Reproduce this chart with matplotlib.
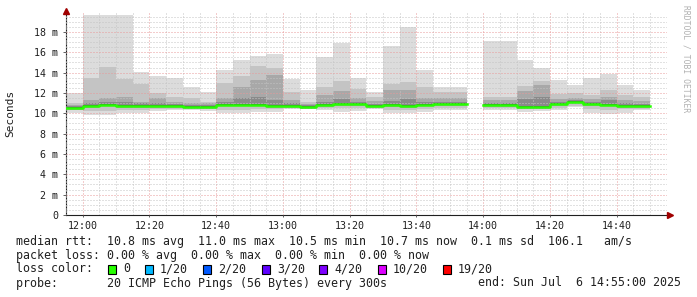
import numpy as np
import matplotlib
matplotlib.use("Agg")
import matplotlib.pyplot as plt
from matplotlib.ticker import MultipleLocator, FuncFormatter
from matplotlib.patches import Rectangle

# 5-minute bins (start time of each bin), values in ms
bins = ["11:55", "12:00", "12:05", "12:10", "12:15", "12:20", "12:25", "12:30", "12:35",
        "12:40", "12:45", "12:50", "12:55", "13:00", "13:05", "13:10", "13:15", "13:20",
        "13:25", "13:30", "13:35", "13:40", "13:45", "13:50", "13:55", "14:00", "14:05",
        "14:10", "14:15", "14:20", "14:25", "14:30", "14:35", "14:40", "14:45"]
nan = np.nan
rtt_max = [12.0, 19.7, 19.7, 19.7, 14.05, 13.7, 13.5, 12.6, 12.1, 14.3, 15.25, 15.6, 15.85,
           13.4, 12.3, 15.55, 16.95, 13.5, 12.1, 16.6, 18.5, 14.25, 12.55, 12.55, nan,
           17.1, 17.1, 15.25, 14.5, 13.3, 12.75, 13.5, 13.85, 12.75, 12.3]
rtt_p2 = [11.0, 13.5, 14.55, 13.4, 12.9, 12.0, 11.6, 11.55, 11.1, 13.0, 13.7, 14.65, 14.5,
          12.1, 11.1, 12.55, 13.2, 12.4, 11.6, 12.9, 13.1, 12.55, 12.1, 12.1, nan,
          11.6, 11.6, 12.7, 13.2, 11.9, 12.0, 11.8, 12.3, 11.8, 11.6]
rtt_p3 = [10.8, 11.3, 11.5, 11.6, 11.15, 11.5, 11.15, 11.0, 11.0, 11.5, 12.55, 13.3, 13.8,
          11.3, 10.95, 11.8, 12.2, 11.5, 11.2, 12.3, 12.3, 11.5, 11.5, 11.5, nan,
          11.3, 11.3, 12.15, 12.75, 11.4, 11.5, 11.4, 11.6, 11.3, 11.2]
rtt_p4 = [10.7, 11.0, 11.1, 11.1, 11.0, 11.0, 10.95, 10.85, 10.85, 11.1, 11.5, 11.6, 11.35,
          11.0, 10.8, 11.1, 11.4, 11.1, 10.95, 11.2, 11.4, 11.1, 11.1, 11.1, nan,
          11.0, 11.0, 11.4, 11.6, 11.1, 11.3, 11.1, 11.3, 11.0, 10.9]
rtt_med = [10.55, 10.7, 10.85, 10.75, 10.75, 10.7, 10.75, 10.65, 10.65, 10.85, 10.85, 10.85, 10.75,
           10.7, 10.65, 10.8, 10.9, 10.9, 10.75, 10.8, 10.75, 10.85, 10.9, 10.9, nan,
           10.8, 10.8, 10.65, 10.6, 10.9, 11.1, 10.9, 10.85, 10.75, 10.7]
rtt_lo2 = [10.3, 10.2, 10.25, 10.35, 10.35, 10.4, 10.45, 10.45, 10.45, 10.35, 10.35, 10.45, 10.4,
           10.5, 10.5, 10.5, 10.5, 10.5, 10.55, 10.35, 10.35, 10.45, 10.5, 10.5, nan,
           10.5, 10.5, 10.4, 10.4, 10.55, 10.75, 10.4, 10.35, 10.4, 10.45]
rtt_min = [10.0, 9.8, 9.8, 10.0, 10.0, 10.2, 10.3, 10.3, 10.25, 10.0, 10.0, 10.15, 10.15,
           10.4, 10.4, 10.3, 10.15, 10.2, 10.4, 10.0, 10.0, 10.15, 10.3, 10.3, nan,
           10.3, 10.3, 10.15, 10.2, 10.3, 10.6, 10.0, 9.9, 10.0, 10.3]

loss_labels = ["0", "1/20", "2/20", "3/20", "4/20", "10/20", "19/20"]
loss_colors = ["#26ff00", "#00b8ff", "#0059ff", "#5e00ff", "#7e00ff", "#dd00ff", "#ff0000"]

W, H = 697, 297
mono = "DejaVu Sans Mono"
y_top = 19.9
px_per_ms = 10.17

t = np.array([int(s[:2]) * 60 + int(s[3:]) for s in bins], dtype=float)
mx = np.array(rtt_max); p2 = np.array(rtt_p2); p3 = np.array(rtt_p3); p4 = np.array(rtt_p4)
med = np.array(rtt_med); lo2 = np.array(rtt_lo2); mn = np.array(rtt_min)
ok = ~np.isnan(med)

fig = plt.figure(figsize=(W / 100, H / 100), dpi=100, facecolor="white")
ax = fig.add_axes([66 / W, (H - 215) / H, 600.8 / W, y_top * px_per_ms / H])


def band(lo, hi, color, z):
    ax.bar(t[ok], (hi - lo)[ok], bottom=lo[ok], width=5, align="edge",
           color=color, linewidth=0, zorder=z, antialiased=False)


# smoke
band(mn, mx, "#dcdcdc", 1.0)
band(lo2, p2, "#c4c4c4", 1.1)
band(med - 0.18, p3, "#a8a8a8", 1.2)
band(med - 0.12, p4, "#8a8a8a", 1.3)
band(med - 0.1, med + 0.1, "#4a4a4a", 1.4)

# median line
edges = np.append(t, t[-1] + 5)
ax.step(edges, np.append(med, med[-1]), where="post", color="#26ff00", lw=1.8, zorder=3)

ax.set_xlim(715, 895)
ax.set_ylim(0, y_top)
ax.set_axisbelow(False)

ax.xaxis.set_major_locator(MultipleLocator(20))
ax.xaxis.set_minor_locator(MultipleLocator(5))
ax.yaxis.set_major_locator(MultipleLocator(2))
ax.yaxis.set_minor_locator(MultipleLocator(0.5))
ax.xaxis.set_major_formatter(FuncFormatter(lambda v, p: f"{int(v) // 60:02d}:{int(v) % 60:02d}"))
ax.yaxis.set_major_formatter(FuncFormatter(lambda v, p: "0" if v == 0 else f"{v:g} m"))

ax.grid(which="minor", color="#c4c4c4", linestyle=(0, (1, 2)), linewidth=0.72)
ax.grid(which="major", color="#e89a9a", linestyle=(0, (1, 2)), linewidth=0.72)

for s in ["top", "right"]:
    ax.spines[s].set_visible(False)
for s in ["left", "bottom"]:
    ax.spines[s].set_color("#202020")
    ax.spines[s].set_linewidth(0.8)

ax.tick_params(which="major", axis="y", length=2.2, width=0.7, color="#606060", pad=3.6,
               labelsize=7.2, labelcolor="#202020")
ax.tick_params(which="major", axis="x", length=1.5, width=0.7, color="#606060", pad=2.5,
               labelsize=7.2, labelcolor="#202020")
ax.tick_params(which="minor", length=0)
for lab in ax.get_xticklabels() + ax.get_yticklabels():
    lab.set_family(mono)

# axis arrows
ax.plot(0, 1.01, marker="^", ms=4, color="#a00000", transform=ax.transAxes, clip_on=False, zorder=5)
ax.plot(1.005, 0, marker=">", ms=4, color="#a00000", transform=ax.transAxes, clip_on=False, zorder=5)

fig.text(10 / W, 1 - 113 / H, "Seconds", rotation=90, ha="center", va="center",
         family=mono, fontsize=8, color="#202020")
fig.text(686 / W, 1 - 5 / H, "RRDTOOL / TOBI OETIKER", rotation=270, ha="center", va="top",
         family=mono, fontsize=5.8, color="#b0b0b0")

# legend
fs = 8.37
line1 = "median rtt:  10.8 ms avg  11.0 ms max  10.5 ms min  10.7 ms now  0.1 ms sd  106.1   am/s"
line2 = "packet loss: 0.00 % avg  0.00 % max  0.00 % min  0.00 % now"
fig.text(16 / W, 1 - 241 / H, line1, family=mono, fontsize=fs, va="center", color="#202020")
fig.text(16 / W, 1 - 255 / H, line2, family=mono, fontsize=fs, va="center", color="#202020")
fig.text(16 / W, 1 - 269 / H, "loss color:", family=mono, fontsize=fs, va="center", color="#202020")
sq_x = [108, 145, 203, 262, 319, 378, 443]
for x, lab, c in zip(sq_x, loss_labels, loss_colors):
    fig.patches.append(Rectangle((x / W, 1 - 274 / H), 8 / W, 9 / H, transform=fig.transFigure,
                                 facecolor=c, edgecolor="black", linewidth=0.8))
    fig.text((x + 15) / W, 1 - 269 / H, lab, family=mono, fontsize=fs, va="center", color="#202020")
fig.text(16 / W, 1 - 283 / H, "probe:       20 ICMP Echo Pings (56 Bytes) every 300s",
         family=mono, fontsize=fs, va="center", color="#202020")
fig.text(681 / W, 1 - 283 / H, "end: Sun Jul  6 14:55:00 2025",
         family=mono, fontsize=fs, va="center", ha="right", color="#202020")

fig.savefig("out.png", dpi=100, facecolor="white")
